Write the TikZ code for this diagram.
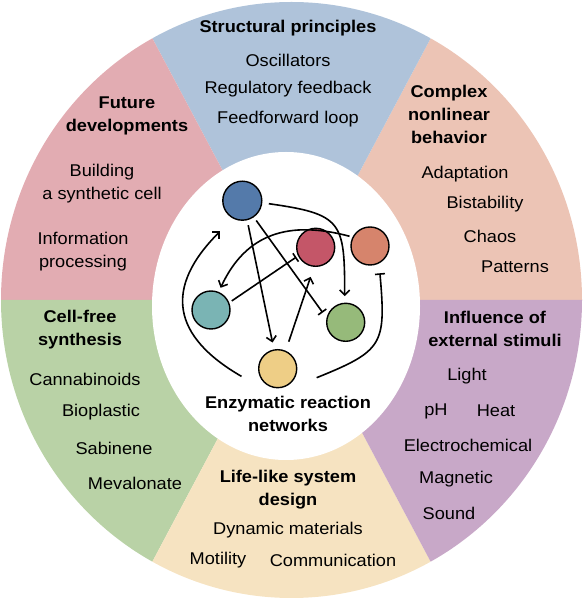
\documentclass[tikz,border=0pt]{standalone}
\usepackage{fontspec}
\setmainfont{Liberation Sans}
\usetikzlibrary{arrows.meta}

\definecolor{skyS}{RGB}{175,195,218}
\definecolor{pinkS}{RGB}{226,172,178}
\definecolor{salmS}{RGB}{236,196,181}
\definecolor{greenS}{RGB}{185,210,166}
\definecolor{sandS}{RGB}{246,227,193}
\definecolor{lilacS}{RGB}{200,168,200}
\definecolor{nBlue}{RGB}{84,122,170}
\definecolor{nRed}{RGB}{196,86,104}
\definecolor{nOrange}{RGB}{214,132,108}
\definecolor{nTeal}{RGB}{122,180,180}
\definecolor{nGreen}{RGB}{150,186,122}
\definecolor{nYellow}{RGB}{238,206,134}

\begin{document}
\begin{tikzpicture}[x=1pt, y=1pt, line width=1.6pt,
  every node/.style={align=center, inner sep=0pt},
  itm/.style={font=\fontsize{17}{23}\selectfont, xscale=1.07},
  hd/.style={font=\fontsize{17}{23}\selectfont\bfseries, xscale=1.07},
  enz/.style={circle, draw, line width=1.4pt, minimum size=38pt},
  act/.style={-{Straight Barb[length=5pt,width=10pt]}},
  inh/.style={-{Bar[width=10pt]}}]
\useasboundingbox (0,0) rectangle (584,600);

% Ring
\coordinate (C) at (291.5,300);
\begin{scope}
  \clip (C) ellipse [x radius=290.5, y radius=298];
  \foreach \a/\b/\c in {0/62/salmS, 62/118/skyS, 118/180/pinkS,
                        180/242/greenS, 242/298/sandS, 298/360/lilacS}
    \fill[\c] (C) -- ([shift={(\a:700)}]C) -- ([shift={(\b:700)}]C) -- cycle;
\end{scope}
\fill[white] (286,294) ellipse [x radius=134, y radius=154];

% Structural principles
\node[hd] (hStruct) at (288,572) {Structural principles};
\node[itm] (osc) at (288,540) {Oscillators};
\node[itm] (reg) at (288,511) {Regulatory feedback};
\node[itm] (ffl) at (288,481) {Feedforward loop};

% Future developments
\node[hd] (hFuture) at (127,484.5) {Future\\developments};
\node[itm] (build) at (102,416.5) {Building\\a synthetic cell};
\node[itm] (info) at (83,348.5) {Information\\processing};

% Complex nonlinear behavior
\node[hd] (hComplex) at (449,486) {Complex\\nonlinear\\behavior};
\node[itm] (adapt) at (465,426) {Adaptation};
\node[itm] (bist) at (485,396) {Bistability};
\node[itm] (chaos) at (490,364) {Chaos};
\node[itm] (patt) at (515,333) {Patterns};

% Cell-free synthesis
\node[hd] (hCell) at (80,270.5) {Cell-free\\synthesis};
\node[itm] (canna) at (85,221) {Cannabinoids};
\node[itm] (biopl) at (101,188) {Bioplastic};
\node[itm] (sabin) at (114,152) {Sabinene};
\node[itm] (meval) at (135,117) {Mevalonate};

% Life-like system design
\node[hd] (hLife) at (288,110) {Life-like system\\design};
\node[itm] (dyn) at (288,70) {Dynamic materials};
\node[itm] (moti) at (218,40) {Motility};
\node[itm] (comm) at (333,40) {Communication};

% Influence of external stimuli
\node[hd] (hInfl) at (495,271) {Influence of\\external stimuli};
\node[itm] (light) at (467,224) {Light};
\node[itm] (ph) at (436,189) {pH};
\node[itm] (heat) at (496,189) {Heat};
\node[itm] (elec) at (468,155) {Electrochemical};
\node[itm] (magn) at (456,121) {Magnetic};
\node[itm] (sound) at (449,87) {Sound};

% Enzymatic reaction network
\node[hd] (hEnz) at (288,186) {Enzymatic reaction\\networks};
\node[enz, fill=nBlue, minimum size=39pt] (B) at (242.3,399.3) {};
\node[enz, fill=nRed] (R) at (315.7,352.7) {};
\node[enz, fill=nOrange] (O) at (370,354) {};
\node[enz, fill=nTeal] (T) at (211,290) {};
\node[enz, fill=nGreen] (G) at (345.7,277.7) {};
\node[enz, fill=nYellow] (Y) at (277.7,231.3) {};

\draw[act, shorten <=5pt, shorten >=7pt] (B.-76) -- (Y.101);
\draw[inh, shorten <=4pt, shorten >=6.5pt] (B.-55) -- (G.167);
\draw[act, shorten <=6.5pt, shorten >=6.5pt] (B.-6) to[out=-8, in=90, looseness=1.6] (G.93);
\draw[inh, shorten <=3pt, shorten >=2pt] (T.22) -- (R.206);
\draw[act, shorten <=9.5pt, shorten >=10.5pt] (Y.66) -- (R.265);
\draw[act, shorten <=3pt, shorten >=4.5pt] (O.153) to[out=165, in=65, looseness=1.15] (T.67);
\draw[act] ([shift={(192:37)}]Y.center) to[out=150, in=225, looseness=1.4] ([shift={(234:38)}]B.center);
\draw[inh] ([shift={(-13:40)}]Y.center) to[out=22, in=-85, looseness=1.5] ([shift={(-70:29)}]O.center);
\end{tikzpicture}
\end{document}
